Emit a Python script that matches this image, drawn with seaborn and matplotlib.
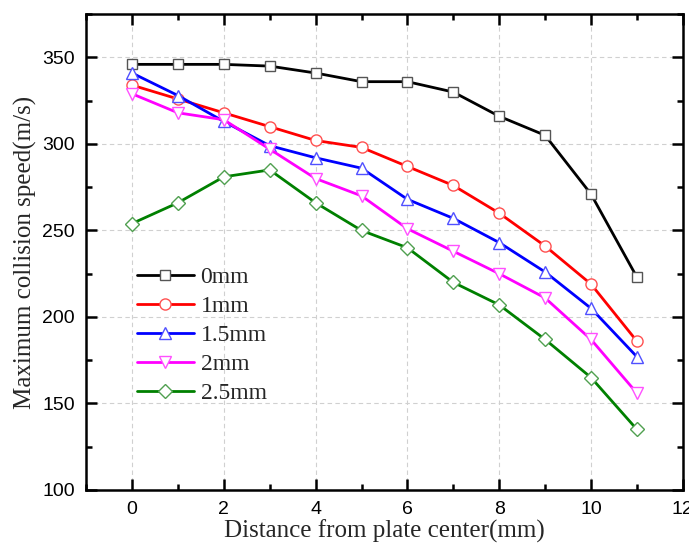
import numpy as np
import pandas as pd
import matplotlib
matplotlib.use("Agg")
import matplotlib.pyplot as plt
import seaborn as sns
from matplotlib.ticker import MultipleLocator

distance = [0, 1, 2, 3, 4, 5, 6, 7, 8, 9, 10, 11]
labels = ["0mm", "1mm", "1.5mm", "2mm", "2.5mm"]
s_0mm = [346, 346, 346, 345, 341, 336, 336, 330, 316, 305, 271, 223]
s_1mm = [334, 326, 318, 310, 302, 298, 287, 276, 260, 241, 219, 186]
s_15mm = [341, 328, 313, 299, 292, 286, 268, 257, 243, 226, 205, 177]
s_2mm = [329, 318, 314, 297, 280, 270, 251, 238, 225, 211, 187, 156]
s_25mm = [254, 266, 281, 285, 266, 250, 240, 220, 207, 187, 165, 135]
series = [s_0mm, s_1mm, s_15mm, s_2mm, s_25mm]

line_colors = ["#000000", "#ff0000", "#0000ff", "#ff00ff", "#008000"]
edge_colors = ["#555555", "#ff5050", "#5050ff", "#ff50ff", "#50a050"]
markers = ["s", "o", "^", "v", "D"]
msizes = [7, 8, 9, 9, 7]

sns.set_style("white")
plt.rcParams["font.family"] = ["Liberation Sans", "DejaVu Sans"]

fig = plt.figure(figsize=(6.89, 5.46), dpi=100)
ax = fig.add_axes([0.125, 0.1026, 0.866, 0.8714])

for lab, vals, lc, ec, mk, ms in zip(labels, series, line_colors, edge_colors, markers, msizes):
    df = pd.DataFrame({"x": distance, "y": vals})
    sns.lineplot(data=df, x="x", y="y", ax=ax, color=lc, linewidth=2.0,
                 marker=mk, markersize=ms, markerfacecolor="white",
                 markeredgecolor=ec, markeredgewidth=1.0, label=lab)

ax.set_xlim(-1, 12)
ax.set_ylim(100, 375)
ax.xaxis.set_major_locator(MultipleLocator(2))
ax.xaxis.set_minor_locator(MultipleLocator(1))
ax.yaxis.set_major_locator(MultipleLocator(50))
ax.yaxis.set_minor_locator(MultipleLocator(25))
ax.set_yticks([100, 150, 200, 250, 300, 350])

ax.grid(True, which="major", color="#d0d0d0", linestyle=(0, (4, 3)), linewidth=0.8)
ax.set_axisbelow(True)

for sp in ax.spines.values():
    sp.set_visible(True)
    sp.set_linewidth(1.8)
    sp.set_color("black")

ax.tick_params(which="both", direction="in", top=True, right=True, bottom=True, left=True,
               colors="black", labelsize=14)
ax.tick_params(which="major", length=8, width=1.8, pad=8)
ax.tick_params(which="minor", length=4, width=1.8)

ax.set_xlabel("Distance from plate center(mm)", family=["Liberation Serif"], fontsize=18, labelpad=1)
ax.set_ylabel("Maximum collision speed(m/s)", family=["Liberation Serif"], fontsize=18, labelpad=4)

leg = ax.legend(loc="upper left", bbox_to_anchor=(0.085, 0.47), frameon=False,
                prop={"family": "Liberation Serif", "size": 17},
                borderpad=0, borderaxespad=0, labelspacing=0.32,
                handlelength=2.4, handletextpad=0.3)

fig.savefig("out.png", dpi=100)
